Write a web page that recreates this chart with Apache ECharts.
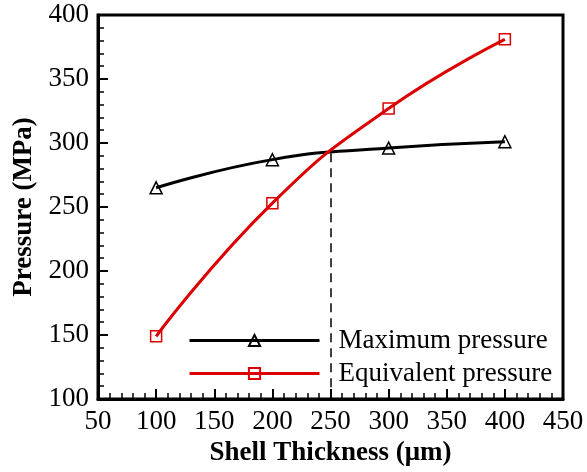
<!DOCTYPE html>
<html>
<head>
<meta charset="utf-8">
<script src="https://cdn.jsdelivr.net/npm/echarts@6/dist/echarts.min.js"></script>
<style>
  html, body { margin: 0; padding: 0; background: #fff; }
  #chart { width: 587px; height: 472px; }
</style>
</head>
<body>
<div id="chart"></div>
<script>
const thickness = [100, 200, 300, 400];
const maxPressure = [265, 287, 296, 301];
const eqPressure = [149, 253, 327, 381];
const crossPoint = [250, 292];

const font = "'Liberation Serif', 'Times New Roman', serif";

const myChart = echarts.init(document.getElementById('chart'));

const option = {
    animation: false,
    grid: {
        left: 98, right: 24, top: 15, bottom: 73,
        show: true,
        borderColor: '#000',
        borderWidth: 3
    },
    legend: {
        orient: 'vertical',
        left: 183,
        top: 322,
        itemWidth: 130,
        itemHeight: 14,
        itemGap: 6,
        lineStyle: { width: 3 },
        textStyle: { fontFamily: font, fontSize: 27, color: '#000', padding: [0, 0, 0, 14] },
        data: [
            { name: 'Maximum pressure', lineStyle: { width: 3 } },
            { name: 'Equivalent pressure', lineStyle: { width: 3 } }
        ]
    },
    xAxis: {
        type: 'value',
        min: 50, max: 450, interval: 50,
        name: 'Shell Thickness (\u03bcm)',
        nameLocation: 'middle',
        nameGap: 37,
        nameTextStyle: { fontFamily: font, fontSize: 27, fontWeight: 'bold', color: '#000' },
        axisLine: { lineStyle: { color: '#000', width: 3 } },
        axisTick: { inside: true, length: 10, lineStyle: { color: '#000', width: 2 } },
        minorTick: { show: true, splitNumber: 5, length: 6, lineStyle: { color: '#000', width: 1.5 } },
        axisLabel: { fontFamily: font, fontSize: 27, color: '#000', margin: 9 },
        splitLine: { show: false }
    },
    yAxis: {
        type: 'value',
        min: 100, max: 400, interval: 50,
        name: 'Pressure (MPa)',
        nameLocation: 'middle',
        nameGap: 58,
        nameTextStyle: { fontFamily: font, fontSize: 27, fontWeight: 'bold', color: '#000' },
        axisLine: { lineStyle: { color: '#000', width: 3 } },
        axisTick: { inside: true, length: 10, lineStyle: { color: '#000', width: 2 } },
        minorTick: { show: true, splitNumber: 5, length: 6, lineStyle: { color: '#000', width: 1.5 } },
        axisLabel: { fontFamily: font, fontSize: 27, color: '#000', margin: 9 },
        splitLine: { show: false }
    },
    series: [
        {
            name: 'Maximum pressure',
            type: 'line',
            smooth: true,
            data: thickness.map((x, i) => [x, maxPressure[i]]),
            symbol: 'triangle',
            symbolSize: 12,
            lineStyle: { color: '#000', width: 3 },
            itemStyle: { color: 'rgba(255,255,255,0)', borderColor: '#000', borderWidth: 1.5 },
            markLine: {
                silent: true,
                symbol: 'none',
                label: { show: false },
                lineStyle: { color: '#000', width: 1.5, type: [9, 6] },
                data: [[{ coord: crossPoint }, { coord: [crossPoint[0], 100] }]]
            }
        },
        {
            name: 'Equivalent pressure',
            type: 'line',
            smooth: true,
            data: thickness.map((x, i) => [x, eqPressure[i]]),
            symbol: 'rect',
            symbolSize: 11,
            lineStyle: { color: '#dd0000', width: 3 },
            itemStyle: { color: 'rgba(255,255,255,0)', borderColor: '#dd0000', borderWidth: 1.5 }
        }
    ]
};

myChart.setOption(option);
</script>
</body>
</html>
